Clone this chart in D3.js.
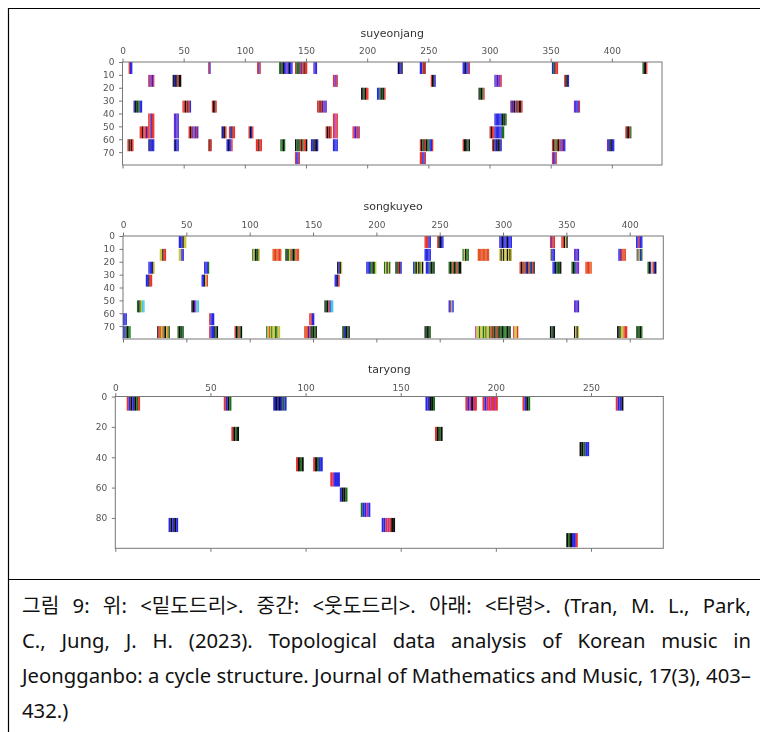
<!DOCTYPE html>
<html>
<head>
<meta charset="utf-8">
<script src="https://cdn.jsdelivr.net/npm/d3@7"></script>
<style>
  body { margin: 0; background: #fff; }
  svg { display: block; }
</style>
</head>
<body>
<svg id="fig" width="760" height="732"></svg>
<script>
// ---- data ----
const panelTitles = ["suyeonjang", "songkuyeo", "taryong"];
const panelCols = [441, 426.5, 288];
const panelRows = [80, 80, 100];

const xTicksUpper = [0, 50, 100, 150, 200, 250, 300, 350, 400];
const xTicksTaryong = [0, 50, 100, 150, 200, 250];
const yTicksUpper = [0, 10, 20, 30, 40, 50, 60, 70];
const yTicksTaryong = [0, 20, 40, 60, 80];

// [first column, first row block, last row block, stripe colours (one column each)]
const suyeonjangBars = [
  [5, 0, 0, "rbb"], [70, 0, 0, "rb"], [110, 0, 0, "rbr"], [128, 0, 0, "gkgkbbpbkbb"],
  [141, 0, 0, "rgkgrbrkrr"], [156, 0, 0, "pbb"], [225, 0, 0, "kbbk"], [243, 0, 0, "bbrkr"],
  [278, 0, 0, "bbkbbr"], [351, 0, 0, "bgkrr"], [425, 0, 0, "gkkr"],
  [21, 1, 1, "rbmbr"], [41, 1, 1, "kbkkrkk"], [172, 1, 1, "rmbr"], [252, 1, 1, "rkkb"],
  [304, 1, 1, "bmbmbr"], [361, 1, 1, "rkkb"],
  [195, 2, 2, "kkgkrr"], [208, 2, 2, "bbgkgkr"], [291, 2, 2, "kgkgr"],
  [9, 3, 3, "bkgkgbb"], [49, 3, 3, "rrkrkrb"], [73, 3, 3, "rkkr"], [159, 3, 3, "rrkrbrbp"],
  [317, 3, 3, "pkpkmkrkkr"], [369, 3, 3, "pbbbr"],
  [21, 4, 5, "rrbrr"], [42, 4, 5, "pbpb"], [172, 4, 5, "rmmr"], [304, 4, 4, "bbbbbbkgkg"],
  [14, 5, 5, "rrkrrbr"], [54, 5, 5, "rkrbrbrb"], [81, 5, 5, "kbkr"], [87, 5, 5, "rbkrr"],
  [103, 5, 5, "rkbr"], [166, 5, 5, "rkrkr"], [188, 5, 5, "rmbrbr"], [300, 5, 5, "rkrrbbbbbbgg"],
  [411, 5, 5, "rkkrg"],
  [4, 6, 6, "rkrkr"], [21, 6, 6, "bkbbb"], [42, 6, 6, "bkbb"], [70, 6, 6, "rkr"],
  [85, 6, 6, "bkbbr"], [109, 6, 6, "rrkrr"], [129, 6, 6, "ggkg"], [141, 6, 6, "kgkgrkgrrk"],
  [154, 6, 6, "bbkkkb"], [172, 6, 6, "bbbb"], [243, 6, 6, "rkgkrkggbbr"], [278, 6, 6, "rkkkgk"],
  [302, 6, 6, "rkbkbkkb"], [351, 6, 6, "rkgrgkrbrbb"], [396, 6, 6, "pbkkbb"],
  [141, 7, 7, "rbbr"], [243, 7, 7, "rrbbr"], [351, 7, 7, "rbbr"]
];

const songkuyeoBars = [
  [44, 0, 0, "bbbkyy"], [238, 0, 0, "rrrbb"], [248, 0, 0, "rkkbb"], [297, 0, 0, "bbkbbbkbbb"],
  [337, 0, 0, "rbrr"], [346, 0, 0, "rrkyk"], [405, 0, 0, "bbrbb"],
  [29, 1, 1, "yykrr"], [44, 1, 1, "yybb"], [102, 1, 1, "gykgky"], [118, 1, 1, "oorooro"],
  [128, 1, 1, "gkgyrgkgoro"], [238, 1, 1, "bbbbb"], [268, 1, 1, "gykgg"], [280, 1, 1, "oorooooro"],
  [297, 1, 1, "ykykyykyky"], [337, 1, 1, "ybbb"], [356, 1, 1, "pbpb"], [391, 1, 1, "bbroro"],
  [405, 1, 1, "ybybg"],
  [20, 2, 2, "bbbky"], [64, 2, 2, "bbbg"], [169, 2, 2, "kbky"], [192, 2, 2, "bbbggkgy"],
  [206, 2, 2, "gykyg"], [215, 2, 2, "kgrkb"], [229, 2, 2, "bgkykgyk"], [239, 2, 2, "bbbgkgk"],
  [257, 2, 2, "gkgrkgrgkk"], [313, 2, 2, "rkrgrbkrgbrk"], [339, 2, 2, "bbkgkgk"],
  [354, 2, 2, "gkgbpp"], [365, 2, 2, "roroo"], [414, 2, 2, "gkbyrbk"],
  [18, 3, 3, "bbkrr"], [62, 3, 3, "bbkyr"], [167, 3, 3, "bbkr"],
  [11, 5, 5, "gkgycc"], [54, 5, 5, "kkbmcc"], [159, 5, 5, "kgkrbcc"], [257, 5, 5, "brcb"],
  [356, 5, 5, "pbpb"],
  [0, 6, 6, "bbb"], [68, 6, 6, "rbbb"], [147, 6, 6, "rrbb"],
  [0, 7, 7, "bbgkgg"], [27, 7, 7, "kroyogkyog"], [43, 7, 7, "gkgkg"], [68, 7, 7, "rbbbkgk"],
  [88, 7, 7, "rkgrgk"], [113, 7, 7, "gyoygyyggyy"], [143, 7, 7, "orobrkgkgk"],
  [173, 7, 7, "gkbkgk"], [238, 7, 7, "kgkkg"], [278, 7, 7, "myygyygygyygrgrkgrgkgkgggkgk"],
  [308, 7, 7, "ryyr"], [337, 7, 7, "kgkk"], [356, 7, 7, "kyky"], [390, 7, 7, "kkgyyorr"],
  [405, 7, 7, "gkgkg"]
];

const taryongBars = [
  [6, 0, 0, "rbkbkgr"], [57, 0, 0, "rbkg"], [83, 0, 0, "bkbkbgb"], [163, 0, 0, "bbkkg"],
  [184, 0, 0, "rbmkmr"], [193, 0, 0, "rbmrmrmr"], [214, 0, 0, "rbkg"], [263, 0, 0, "rbbk"],
  [61, 2, 2, "rkgk"], [168, 2, 2, "rkgk"],
  [244, 3, 3, "kkgbb"],
  [95, 4, 4, "rkgk"], [104, 4, 4, "rkgbb"],
  [113, 5, 5, "rmbbb"],
  [118, 6, 6, "bkkg"],
  [129, 7, 7, "gbbmb"],
  [28, 8, 8, "bkbkb"], [140, 8, 8, "bbrmrkk"],
  [237, 9, 9, "kgkbbr"]
];

const captionLines = [
  "그림 9: 위: <밑도드리>. 중간: <웃도드리>. 아래: <타령>. (Tran, M. L., Park,",
  "C., Jung, J. H. (2023). Topological data analysis of Korean music in",
  "Jeongganbo: a cycle structure. Journal of Mathematics and Music, 17(3), 403–",
  "432.)"
];

// ---- styles / layout ----
const stripeColor = d3.scaleOrdinal()
  .domain(["r", "b", "k", "g", "y", "o", "c", "m", "p"])
  .range(["#e8312a", "#2626e4", "#101010", "#1e6e1e", "#cbc43c", "#e4561c", "#46c8dc", "#c0309a", "#7c2cc8"]);

const panels = [
  { bars: suyeonjangBars, x0: 122.5, x1: 662, y0: 62, y1: 165, titleY: 37, xTicks: xTicksUpper, yTicks: yTicksUpper, xPad: 5 },
  { bars: songkuyeoBars, x0: 123, x1: 663.3, y0: 236, y1: 339, titleY: 210, xTicks: xTicksUpper, yTicks: yTicksUpper, xPad: 5 },
  { bars: taryongBars, x0: 115.3, x1: 663.3, y0: 396.5, y1: 548.3, titleY: 373, xTicks: xTicksTaryong, yTicks: yTicksTaryong, xPad: 2.5 }
];

const svg = d3.select("#fig");

svg.append("defs").append("filter")
  .attr("id", "soft")
  .attr("x", "-5%").attr("y", "-5%").attr("width", "110%").attr("height", "110%")
  .append("feGaussianBlur")
  .attr("stdDeviation", 0.75);

const chart = svg.append("g").attr("filter", "url(#soft)");

panels.forEach((p, i) => {
  const x = d3.scaleLinear().domain([0, panelCols[i]]).range([p.x0, p.x1]);
  const y = d3.scaleLinear().domain([0, panelRows[i]]).range([p.y0, p.y1]);
  const g = chart.append("g");
  const colW = x(1) - x(0);

  // bars: one rect per stripe column
  const bar = g.append("g").selectAll("g")
    .data(p.bars)
    .enter()
    .append("g");
  bar.selectAll("rect")
    .data(d => d[3].split("").map((c, k) => ({ col: d[0] + k, b0: d[1], b1: d[2], c })))
    .enter()
    .append("rect")
    .attr("x", d => x(d.col))
    .attr("width", colW + 0.05)
    .attr("y", d => y(d.b0 * 10))
    .attr("height", d => y(d.b1 * 10 + 9.3) - y(d.b0 * 10))
    .attr("fill", d => stripeColor(d.c));

  // frame
  g.append("rect")
    .attr("x", p.x0).attr("y", p.y0)
    .attr("width", p.x1 - p.x0).attr("height", p.y1 - p.y0)
    .attr("fill", "none")
    .attr("stroke", "#777")
    .attr("stroke-width", 1);

  const top = g.append("g")
    .attr("transform", `translate(0,${p.y0})`)
    .call(d3.axisTop(x).tickValues(p.xTicks).tickSize(3.5).tickPadding(p.xPad).tickFormat(d3.format("d")));
  const bottom = g.append("g")
    .attr("transform", `translate(0,${p.y1})`)
    .call(d3.axisBottom(x).tickValues(p.xTicks).tickSize(3.5).tickFormat(""));
  const left = g.append("g")
    .attr("transform", `translate(${p.x0},0)`)
    .call(d3.axisLeft(y).tickValues(p.yTicks).tickSize(3.5).tickPadding(4.5).tickFormat(d3.format("d")));

  [top, bottom, left].forEach(a => {
    a.select(".domain").remove();
    a.selectAll("line").attr("stroke", "#777");
    a.selectAll("text")
      .attr("fill", "#555")
      .attr("font-family", "DejaVu Sans")
      .attr("font-size", 9);
  });

  g.append("text")
    .attr("x", (p.x0 + p.x1) / 2)
    .attr("y", p.titleY)
    .attr("text-anchor", "middle")
    .attr("font-family", "DejaVu Sans")
    .attr("font-size", 11)
    .attr("fill", "#333")
    .text(panelTitles[i]);
});

// outer figure frame and separator
svg.append("line").attr("x1", 8.5).attr("x2", 8.5).attr("y1", 8).attr("y2", 732)
  .attr("stroke", "#000").attr("stroke-width", 1.2);
svg.append("line").attr("x1", 8).attr("x2", 760).attr("y1", 8.5).attr("y2", 8.5)
  .attr("stroke", "#000").attr("stroke-width", 1.2);
svg.append("line").attr("x1", 8).attr("x2", 760).attr("y1", 579.5).attr("y2", 579.5)
  .attr("stroke", "#000").attr("stroke-width", 1.2);

// caption: size the font so the third line fills the width naturally,
// then justify the others by stretching word spaces
const capLeft = 22, capRight = 751;
const target = capRight - capLeft;
const caption = svg.append("g")
  .attr("font-family", "'Noto Sans', 'Noto Sans CJK KR', sans-serif")
  .attr("font-size", 18)
  .attr("fill", "#111");

const probe = caption.append("text").text(captionLines[2]);
const fitSize = Math.min(21, 18 * target / probe.node().getComputedTextLength());
probe.remove();
caption.attr("font-size", fitSize);

captionLines.forEach((line, i) => {
  const t = caption.append("text")
    .attr("x", capLeft)
    .attr("y", 613 + i * 35)
    .text(line);
  if (i < captionLines.length - 1) {
    const natural = t.node().getComputedTextLength();
    if (natural > target) {
      t.attr("textLength", target).attr("lengthAdjust", "spacingAndGlyphs");
    } else {
      const spaces = (line.match(/ /g) || []).length;
      t.attr("word-spacing", (target - natural) / spaces);
    }
  }
});
</script>
</body>
</html>
